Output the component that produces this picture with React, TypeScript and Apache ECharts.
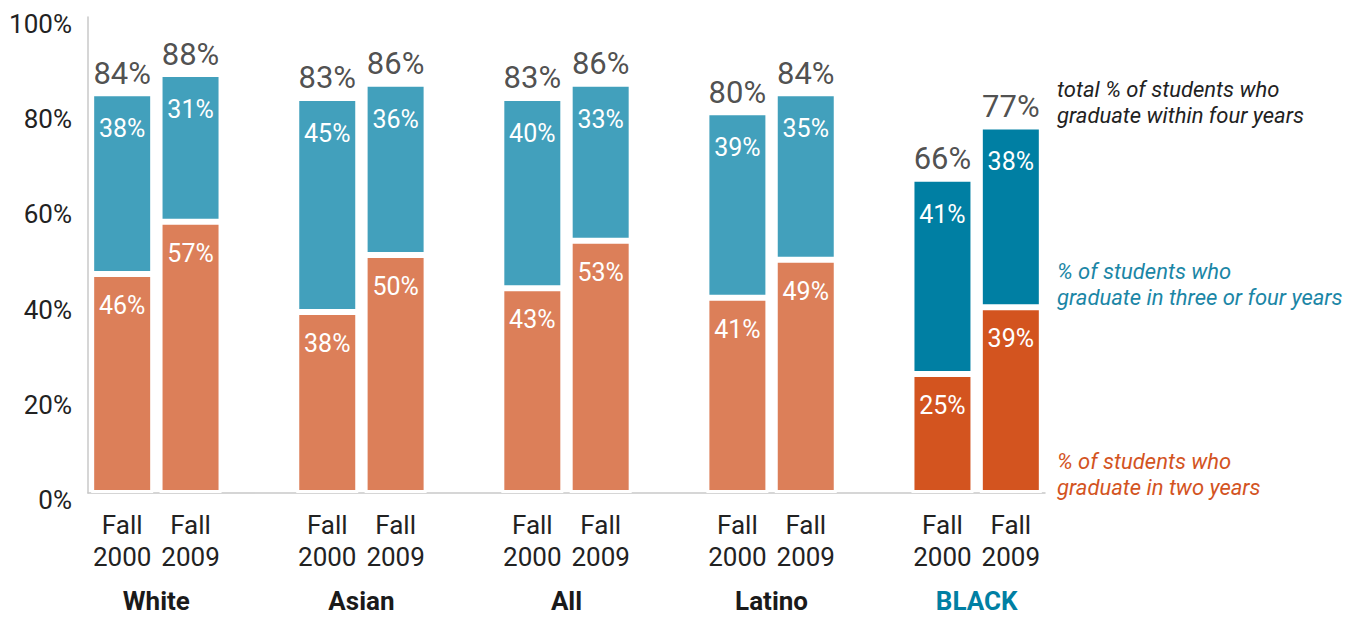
import React, { useEffect, useRef } from "react";
import * as echarts from "echarts";

const groups = ["White", "Asian", "All", "Latino", "BLACK"];
const years = ["Fall\n2000", "Fall\n2009"];
const twoYears = [46, 57, 38, 50, 43, 53, 41, 49, 25, 39];
const threeOrFour = [38, 31, 45, 36, 40, 33, 39, 35, 41, 38];
const totals = [84, 88, 83, 86, 83, 86, 80, 84, 66, 77];

const ORANGE = "#DC7F59";
const BLUE = "#42A0BC";
const ORANGE_DARK = "#D3541F";
const BLUE_DARK = "#007FA3";
const FONT = "Roboto";

export default function App() {
  const ref = useRef<HTMLDivElement>(null);
  useEffect(() => {
    document.body.style.margin = "0";
    const chart = echarts.init(ref.current!, null, { renderer: "svg" });

    const cats: string[] = [];
    const orangeData: any[] = [];
    const blueData: any[] = [];
    const totalData: any[] = [];
    let k = 0;
    groups.forEach((g, gi) => {
      years.forEach((y) => {
        const dark = g === "BLACK";
        cats.push(y);
        orangeData.push({ value: twoYears[k], itemStyle: { color: dark ? ORANGE_DARK : ORANGE } });
        blueData.push({ value: threeOrFour[k], itemStyle: { color: dark ? BLUE_DARK : BLUE } });
        totalData.push(totals[k]);
        k++;
      });
      if (gi < groups.length - 1) {
        cats.push("");
        orangeData.push("-");
        blueData.push("-");
        totalData.push("-");
      }
    });

    const groupPos: Record<number, string> = {};
    groups.forEach((g, gi) => (groupPos[gi * 3 + 1] = g));

    const insideLabel = (distance: number) => ({
      show: true,
      position: "insideTop" as const,
      distance,
      color: "#fff",
      fontSize: 25,
      fontFamily: FONT,
      formatter: (p: any) => p.value + "%",
    });

    chart.setOption({
      animation: false,
      grid: { left: 88, right: 311, top: 17, bottom: 124 },
      xAxis: [
        {
          type: "category",
          data: cats,
          axisLine: { show: true, lineStyle: { color: "#c8c8c8", width: 1.5 } },
          axisTick: { show: false },
          axisLabel: {
            interval: 0,
            color: "#222",
            fontSize: 26,
            lineHeight: 32,
            fontFamily: FONT,
            margin: 16,
          },
        },
        {
          type: "value",
          position: "bottom",
          min: 0,
          max: 14,
          interval: 1,
          offset: 95,
          axisLine: { show: false },
          axisTick: { show: false },
          splitLine: { show: false },
          axisLabel: {
            margin: 0,
            fontSize: 26,
            fontWeight: "bold",
            fontFamily: FONT,
            color: (v: number) => (groupPos[v] === "BLACK" ? BLUE_DARK : "#1a1a1a"),
            formatter: (v: number) => groupPos[v] || "",
          },
        },
      ],
      yAxis: {
        type: "value",
        min: 0,
        max: 100,
        interval: 20,
        axisLine: { show: true, lineStyle: { color: "#c8c8c8", width: 1.5 } },
        axisTick: { show: false },
        splitLine: { show: false },
        axisLabel: {
          margin: 16,
          color: "#222",
          fontSize: 26,
          fontFamily: FONT,
          verticalAlign: "top",
          lineHeight: 14,
          formatter: (v: number) => v + "%",
        },
      },
      series: [
        {
          type: "bar",
          stack: "s",
          data: orangeData,
          barWidth: 62,
          itemStyle: { borderColor: "#fff", borderWidth: 3 },
          label: insideLabel(19),
        },
        {
          type: "bar",
          stack: "s",
          data: blueData,
          barWidth: 62,
          itemStyle: { borderColor: "#fff", borderWidth: 3 },
          label: insideLabel(23),
        },
        {
          type: "scatter",
          data: totalData,
          symbolSize: 1,
          itemStyle: { color: "rgba(0,0,0,0)" },
          label: {
            show: true,
            position: "top",
            distance: 4,
            color: "#222",
            fontSize: 31,
            fontFamily: FONT,
            formatter: (p: any) => p.value + "%",
          },
        },
      ],
      graphic: [
        {
          type: "text",
          left: 1057,
          top: 76,
          style: {
            text: "total % of students who\ngraduate within four years",
            fill: "#222",
            font: "italic 22px Roboto",
            lineHeight: 26,
          },
        },
        {
          type: "text",
          left: 1057,
          top: 258,
          style: {
            text: "% of students who\ngraduate in three or four years",
            fill: "#1B86A6",
            font: "italic 22px Roboto",
            lineHeight: 26,
          },
        },
        {
          type: "text",
          left: 1057,
          top: 448,
          style: {
            text: "% of students who\ngraduate in two years",
            fill: ORANGE_DARK,
            font: "italic 22px Roboto",
            lineHeight: 26,
          },
        },
      ],
    });
    return () => chart.dispose();
  }, []);
  return <div ref={ref} style={{ width: 1356, height: 617 }} />;
}
